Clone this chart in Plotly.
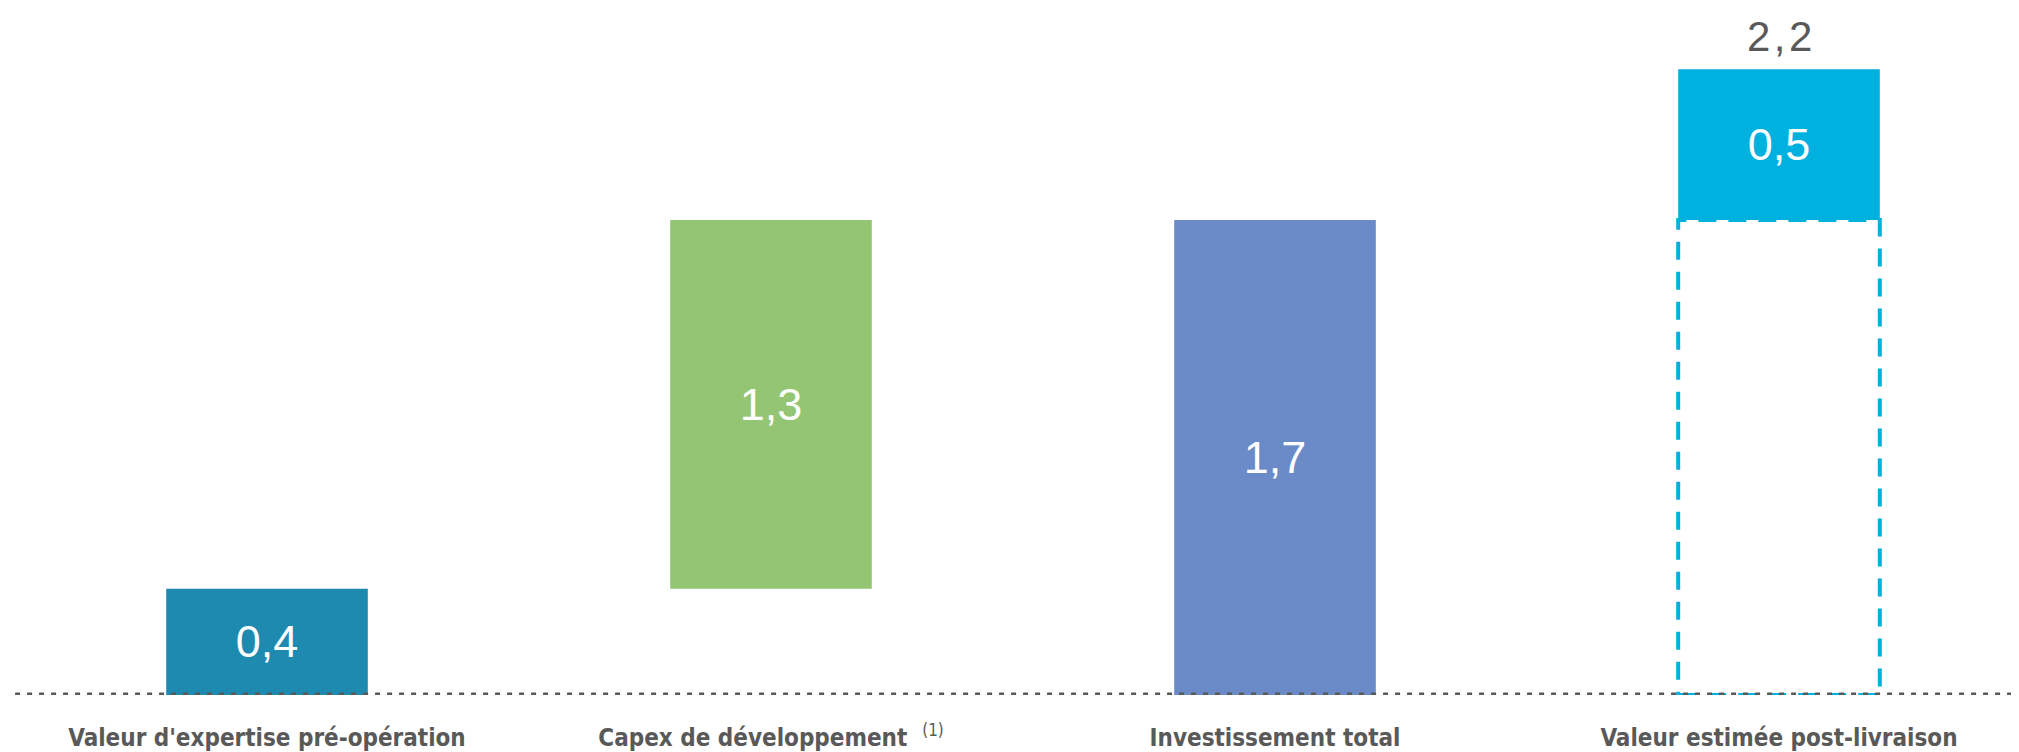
import plotly.graph_objects as go

categories = ["Valeur d'expertise pré-opération",
              "Capex de développement  <sup><span style='font-weight:normal'>(1)</span></sup>",
              "Investissement total",
              "Valeur estimée post-livraison"]
pre_value = 0.38
capex = 1.32
uplift = 0.54
colors = ["#1F8AB0", "#93C572", "#6A8BC7", "#00B0DE"]

total_invest = pre_value + capex
post_value = total_invest + uplift

x = [0, 1, 2, 3]
heights = [pre_value, capex, total_invest, uplift]
bases = [0, pre_value, 0, total_invest]


def fmt(v, sep=","):
    return f"{v:.1f}".replace(".", sep)


BW = 0.4
fig = go.Figure()
fig.add_trace(go.Bar(
    x=x, y=heights, base=bases, width=BW,
    marker=dict(color=colors, line=dict(width=0)),
    text=[fmt(v) for v in heights],
    textposition="inside", insidetextanchor="middle",
    textfont=dict(family="Liberation Sans, Arial, sans-serif", size=45, color="white"),
    textangle=0, cliponaxis=False, hoverinfo="skip",
))

# dashed outline under the post-delivery bar (equal to the total investment)
fig.add_shape(type="rect", xref="x", yref="y",
              x0=3 - BW / 2, x1=3 + BW / 2, y0=0, y1=total_invest,
              line=dict(color="#00B0DE", width=4, dash="18px,12px"),
              fillcolor="rgba(0,0,0,0)", layer="above")

# dotted baseline
fig.add_shape(type="line", xref="paper", yref="y", x0=0.0035, x1=1, y0=0, y1=0,
              line=dict(color="#595959", width=5, dash="5px,7px"), layer="above")

fig.add_annotation(x=3, y=post_value, xref="x", yref="y",
                   text=fmt(post_value, "\u200a,\u200a"),
                   showarrow=False, yanchor="middle", yshift=33, borderpad=0,
                   font=dict(family="Liberation Sans, Arial, sans-serif", size=42, color="#595959"))

fig.update_layout(
    width=2019, height=752,
    margin=dict(l=0, r=0, t=0, b=65),
    paper_bgcolor="white", plot_bgcolor="white",
    showlegend=False,
    xaxis=dict(range=[-259 / 504, (2019 - 259) / 504], tickvals=x, ticktext=categories,
               showgrid=False, zeroline=False, showline=False, ticks="",
               ticklabelstandoff=26,
               tickfont=dict(family="DejaVu Sans Condensed, Liberation Sans Narrow, sans-serif",
                             size=24, color="#595959", weight="bold")),
    yaxis=dict(range=[0, 687 / 279.4], visible=False, showgrid=False, zeroline=False),
)

fig.write_html("out.html")
